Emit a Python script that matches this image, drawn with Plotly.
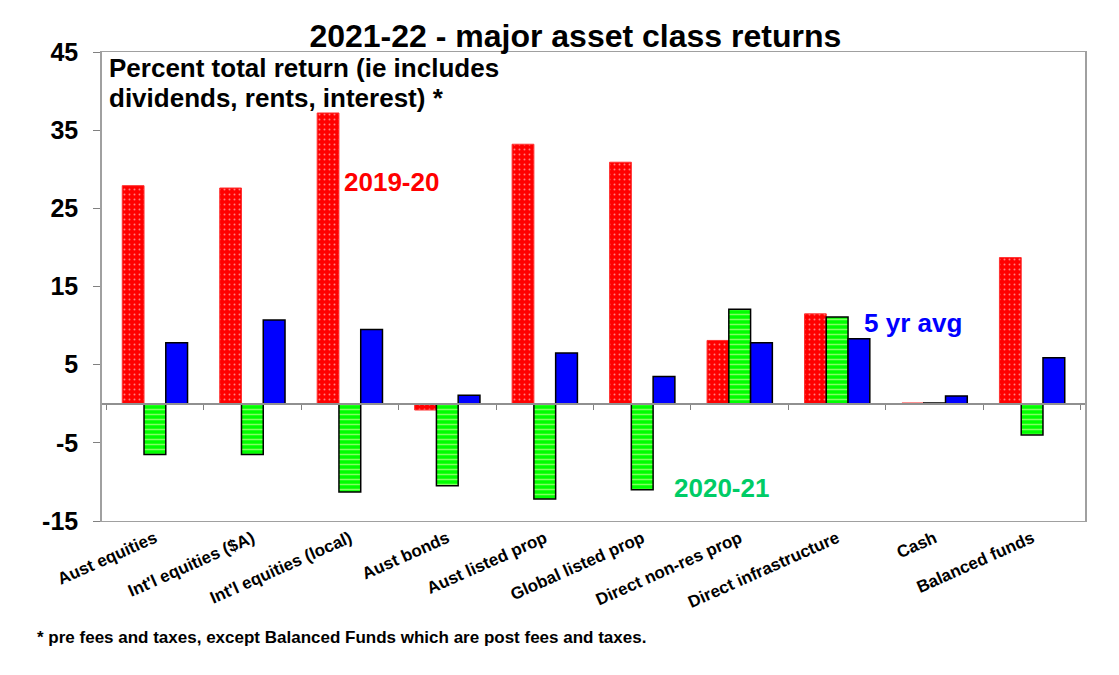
import plotly.graph_objects as go

# Asset classes and returns (percent total return)
categories = ['Aust equities', "Int'l equities ($A)", "Int'l equities (local)",
              'Aust bonds', 'Aust listed prop', 'Global listed prop',
              'Direct non-res prop', 'Direct infrastructure', 'Cash', 'Balanced funds']
ret_2019_20 = [27.9, 27.6, 37.2, -0.8, 33.2, 30.9, 8.1, 11.5, 0.1, 18.7]
ret_2020_21 = [-6.5, -6.5, -11.3, -10.5, -12.2, -11.0, 12.1, 11.1, 0.1, -4.0]
avg_5yr = [7.8, 10.7, 9.5, 1.1, 6.5, 3.5, 7.8, 8.3, 1.0, 5.9]
y_ticks = [-15, -5, 5, 15, 25, 35, 45]
y_ticktext = [str(v) for v in y_ticks]  # plain hyphen minus, like the original

font = 'Arial, Liberation Sans, sans-serif'

trace1 = go.Bar(x=categories, y=ret_2019_20, name='2019-20',
                marker=dict(color='#ff0000', line=dict(color='#ff3030', width=1),
                            pattern=dict(shape='.', fgcolor='#ffffff', bgcolor='#ff0000',
                                         size=5, solidity=0.12)))
trace2 = go.Bar(x=categories, y=ret_2020_21, name='2020-21',
                marker=dict(color='#00ff00', line=dict(color='#000000', width=1.5),
                            pattern=dict(shape='-', fgcolor='#ffffc0', bgcolor='#00ff00',
                                         size=5, solidity=0.3)))
trace3 = go.Bar(x=categories, y=avg_5yr, name='5 yr avg',
                marker=dict(color='#0000ff', line=dict(color='#000000', width=1.5)))
# helper trace so the zero-line axis gets the category ticks
helper = go.Scatter(x=categories, y=[0] * len(categories), xaxis='x2', mode='markers',
                    marker=dict(opacity=0), hoverinfo='skip', showlegend=False)

fig = go.Figure(data=[trace1, trace2, trace3, helper])

fig.update_layout(
    width=1119, height=675,
    barmode='group', bargap=0.33, bargroupgap=0,
    showlegend=False,
    plot_bgcolor='white', paper_bgcolor='white',
    margin=dict(l=94, r=42, t=44, b=162),
    font=dict(family=font, color='black'),
    title=dict(text='<b>2021-22 - major asset class returns</b>', x=0.507, xanchor='center',
               y=1 - 28 / 675, yanchor='middle', font=dict(size=32, family=font)),
    xaxis=dict(type='category', tickangle=-24, ticks='', showline=True, linecolor='#a0a0a0',
               linewidth=1, mirror=True, showgrid=False,
               tickfont=dict(size=17, family=font, weight='bold')),
    xaxis2=dict(type='category', overlaying='x', matches='x', anchor='free',
                position=(0 - y_ticks[0]) / (y_ticks[-1] - y_ticks[0]),
                showticklabels=False, ticks='outside', tickson='boundaries', ticklen=5,
                tickcolor='#808080', showline=True, linecolor='#909090', linewidth=1.5,
                showgrid=False),
    yaxis=dict(range=[y_ticks[0], y_ticks[-1]], tickvals=y_ticks, ticktext=y_ticktext,
               ticks='outside', ticklen=7, tickcolor='#808080', ticklabelstandoff=10,
               showline=True, linecolor='#a0a0a0', linewidth=1.5,
               mirror=True, showgrid=False, zeroline=False,
               tickfont=dict(size=25, family=font, weight='bold')),
)

annotations = [
    dict(text='<b>Percent total return (ie includes</b>',
         x=0.005, y=(521 - 68) / 469, xanchor='left', yanchor='middle',
         font=dict(size=26, color='black')),
    dict(text='<b>dividends, rents, interest) *</b>',
         x=0.005, y=(521 - 98) / 469, xanchor='left', yanchor='middle',
         font=dict(size=26, color='black')),
    dict(text='<b>2019-20</b>', x=0.244, y=0.723, xanchor='left', yanchor='middle',
         font=dict(size=26, color='#ff0000')),
    dict(text='<b>5 yr avg</b>', x=0.773, y=0.422, xanchor='left', yanchor='middle',
         font=dict(size=26, color='#0000ff')),
    dict(text='<b>2020-21</b>', x=0.58, y=0.070, xanchor='left', yanchor='middle',
         font=dict(size=26, color='#00cc66')),
    dict(text='<b>* pre fees and taxes, except Balanced Funds which are post fees and taxes.</b>',
         x=-0.068, y=-0.249, xanchor='left', yanchor='middle',
         font=dict(size=17, color='black')),
]
for a in annotations:
    fig.add_annotation(xref='paper', yref='paper', showarrow=False, **a)

fig.write_html('out.html')
